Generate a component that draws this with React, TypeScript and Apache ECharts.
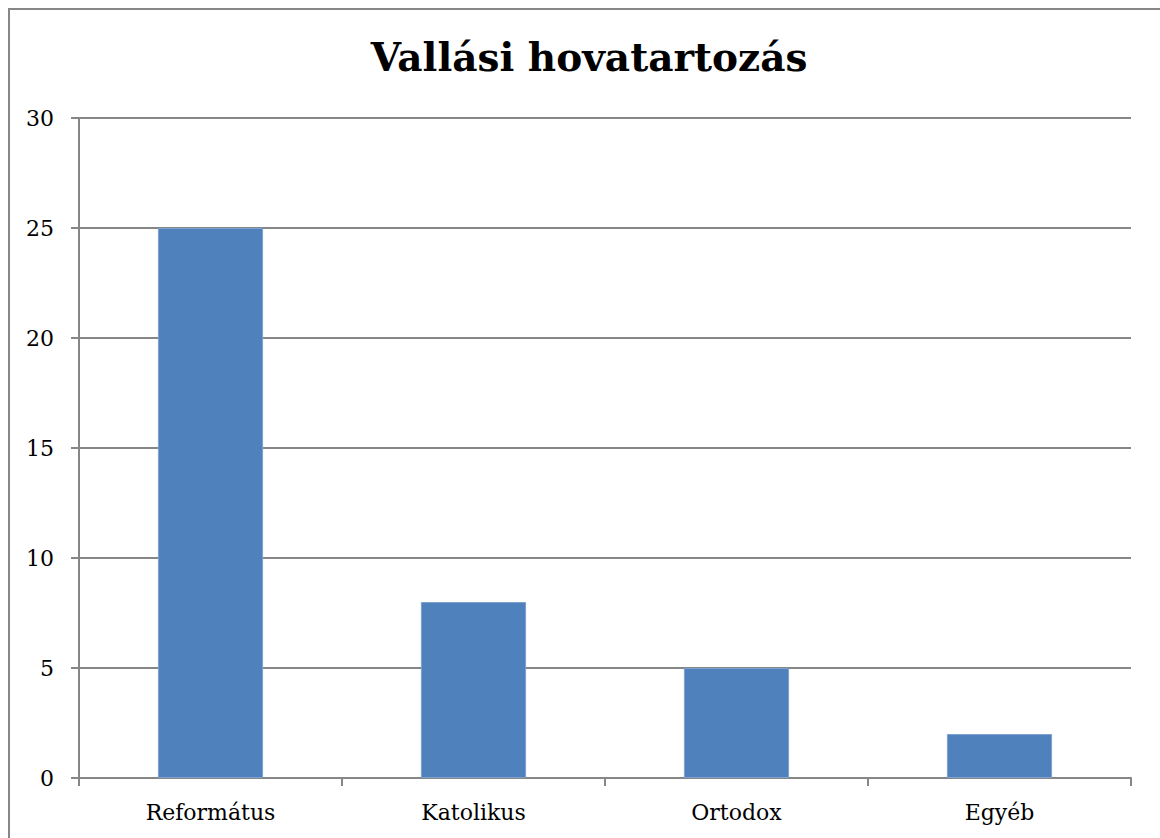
import React, { useEffect, useRef } from "react";
import * as echarts from "echarts";

const categories = ["Református", "Katolikus", "Ortodox", "Egyéb"];
const values = [25, 8, 5, 2];
const chartTitle = "Vallási hovatartozás";
const yMin = 0;
const yMax = 30;
const yStep = 5;

const FONT = "'DejaVu Serif', 'Liberation Serif', serif";

export default function App() {
  const ref = useRef<HTMLDivElement>(null);
  useEffect(() => {
    document.body.style.margin = "0";
    document.body.style.overflow = "hidden";
    const chart = echarts.init(ref.current!, null, { renderer: "svg" });
    chart.setOption({
      animation: false,
      backgroundColor: "#ffffff",
      title: {
        text: chartTitle,
        left: 584,
        textAlign: "center",
        top: 32,
        textStyle: { fontFamily: FONT, fontSize: 39, fontWeight: "bold", color: "#000" },
      },
      graphic: [
        {
          type: "rect",
          shape: { x: 9, y: 9, width: 1200, height: 900 },
          style: { fill: "none", stroke: "#878787", lineWidth: 2 },
          silent: true,
        },
      ],
      grid: { left: 79, right: 29, top: 118, bottom: 60, containLabel: false },
      xAxis: {
        type: "category",
        data: categories,
        axisLine: { lineStyle: { color: "#868686", width: 2 } },
        axisTick: { show: true, length: 8, alignWithLabel: false, lineStyle: { color: "#868686", width: 2 } },
        axisLabel: { fontFamily: FONT, fontSize: 22, color: "#000", margin: 23 },
        splitLine: { show: false },
      },
      yAxis: {
        type: "value",
        min: yMin,
        max: yMax,
        interval: yStep,
        axisLine: { show: true, lineStyle: { color: "#868686", width: 2 } },
        axisTick: { show: true, length: 8, lineStyle: { color: "#868686", width: 2 } },
        axisLabel: { fontFamily: FONT, fontSize: 22, color: "#000", margin: 25 },
        splitLine: { show: true, lineStyle: { color: "#868686", width: 2 } },
      },
      series: [
        {
          type: "bar",
          data: values,
          barWidth: "40%",
          itemStyle: { color: "#4F81BD", borderColor: "#7EA1CF", borderWidth: 1 },
        },
      ],
    });
    return () => chart.dispose();
  }, []);
  return <div ref={ref} style={{ width: 1160, height: 838 }} />;
}
